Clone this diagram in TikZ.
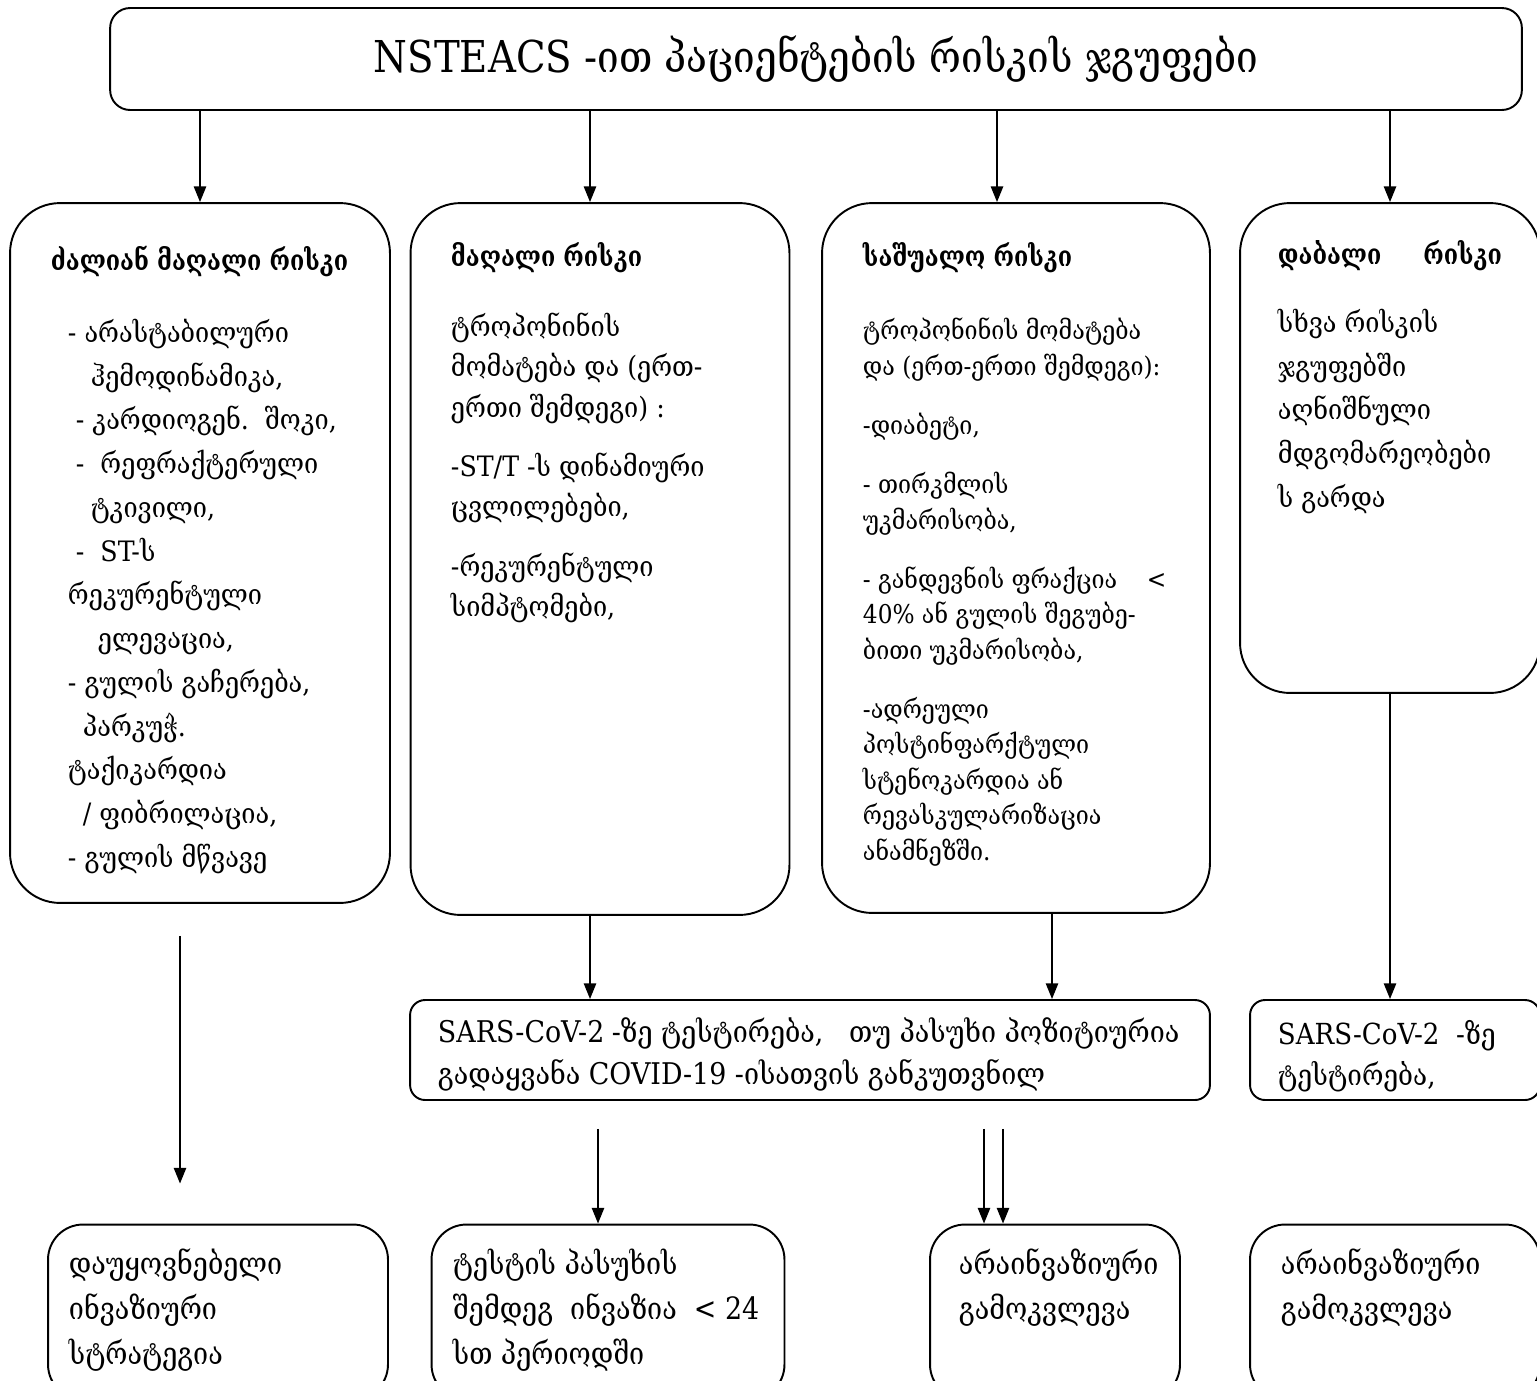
\documentclass[tikz,border=0pt]{standalone}
\usepackage{fontspec}
\setmainfont{DejaVu Serif}[FakeStretch=0.9]
\newfontfamily\titlefont{DejaVu Serif}[FakeStretch=0.88]
\newfontfamily\narrowfont{DejaVu Serif}[FakeStretch=0.875]
\newfontfamily\headfont{DejaVu Serif}[FakeStretch=0.83]
\usetikzlibrary{arrows.meta,calc}

\begin{document}
\begin{tikzpicture}[x=0.02cm, y=-0.02cm, line width=1.1pt]
  \tikzstyle{every node} = [inner sep = 0pt];
  \tikzstyle{box} = [draw, rounded corners=1cm];
  \tikzstyle{smallbox} = [draw, rounded corners=0.3cm, minimum height=2cm];
  \tikzstyle{endbox} = [draw, rounded corners=0.7cm, minimum height=3.5cm];
  \tikzstyle{head} = [anchor=north west, font=\fontsize{16}{20}\headfont\bfseries];
  \tikzstyle{body} = [anchor=north west, align=left, font=\fontsize{16}{24.9}\selectfont];
  \tikzstyle{arr} = [-{Triangle[length=9pt, width=7pt]}];

  \useasboundingbox (0,0) rectangle (1537,1380);
  \clip (0,0) rectangle (1537,1380);

  % title
  \node (top) [draw, rounded corners=0.4cm, minimum width=28.24cm, minimum height=2.04cm,
    font=\fontsize{25}{30}\titlefont] at (816,59) {NSTEACS -ით პაციენტების რისკის ჯგუფები};

  % risk groups
  \node (col1) [box, minimum width=7.6cm, minimum height=14cm] at (200,553) {};
  \node (col2) [box, minimum width=7.58cm, minimum height=14.24cm] at (600,559) {};
  \node (col3) [box, minimum width=7.76cm, minimum height=14.2cm] at (1016,558) {};
  \node (col4) [box, minimum width=6cm, minimum height=9.8cm] at (1390,448) {};

  \node (h1) [head] at (50,245) {ძალიან მაღალი რისკი};
  \node (t1) [body] at (67,318) {- არასტაბილური\\
    \hspace*{13pt}ჰემოდინამიკა,\\
    \hspace*{4.5pt}- კარდიოგენ.\ \ შოკი,\\
    \hspace*{4.5pt}-\ \ რეფრაქტერული\\
    \hspace*{13pt}ტკივილი,\\
    \hspace*{4.5pt}-\ \ ST-ს\\
    რეკურენტული\\
    \hspace*{17pt}ელევაცია,\\
    - გულის გაჩერება,\\
    \hspace*{8.5pt}პარკუჭ.\\
    ტაქიკარდია\\
    \hspace*{8.5pt}/ ფიბრილაცია,\\
    - გულის მწვავე};

  \node (h2) [head] at (450,242) {მაღალი რისკი};
  \node (t2) [body, font=\fontsize{16}{22.9}\selectfont] at (450,312) {ტროპონინის\\
    მომატება და (ერთ-\\
    ერთი შემდეგი) :\\[11pt]
    -ST/T -ს დინამიური\\
    ცვლილებები,\\[11pt]
    -რეკურენტული\\
    სიმპტომები,};

  \node (h3) [head] at (862,242) {საშუალო რისკი};
  \node (t3) [body, font=\fontsize{14.7}{20.2}\selectfont] at (862,317) {ტროპონინის მომატება\\
    და (ერთ-ერთი შემდეგი):\\[13.5pt]
    -დიაბეტი,\\[13.5pt]
    - თირკმლის\\
    უკმარისობა,\\[13.5pt]
    \makebox[161.6pt][l]{- განდევნის ფრაქცია}<\\
    40\% ან გულის შეგუბე-\\
    ბითი უკმარისობა,\\[13.5pt]
    -ადრეული\\
    პოსტინფარქტული\\
    სტენოკარდია ან\\
    რევასკულარიზაცია\\
    ანამნეზში.};

  \node (h4) [head] at (1277,240) {\makebox[82.8pt][l]{დაბალი}რისკი};
  \node (t4) [body] at (1277,308) {სხვა რისკის\\
    ჯგუფებში\\
    აღნიშნული\\
    მდგომარეობები\\
    ს გარდა};

  % testing
  \node (sars) [smallbox, minimum width=16cm] at (810,1050) {};
  \node (st1) [body, font=\fontsize{17}{24}\selectfont] at (437,1017) {\makebox[99pt][l]{SARS-CoV-2}-ზე ტესტირება,\ \ \ თუ პასუხი პოზიტიურია\\
    გადაყვანა COVID-19 -ისათვის განკუთვნილ};
  \node (sars2) [smallbox, minimum width=5.8cm] at (1395,1050) {};
  \node (st2) [body, font=\fontsize{16.5}{23.8}\selectfont] at (1277,1019) {SARS-CoV-2\ \ -ზე\\
    ტესტირება,};

  % strategy
  \node (b1) [endbox, minimum width=6.8cm] at (218,1312) {};
  \node (bt1) [body, font=\fontsize{17.5}{25.5}\narrowfont] at (68,1248) {დაუყოვნებელი\\
    ინვაზიური\\
    სტრატეგია};
  \node (b2) [endbox, minimum width=7.06cm] at (608,1312) {};
  \node (bt2) [body, font=\fontsize{17.5}{25.5}\narrowfont] at (452,1248) {ტესტის პასუხის\\
    შემდეგ\ \ ინვაზია\ \ < 24\\
    სთ პერიოდში};
  \node (b3) [endbox, minimum width=5cm] at (1055,1312) {};
  \node (bt3) [body, font=\fontsize{17.5}{25.5}\narrowfont] at (958,1248) {არაინვაზიური\\
    გამოკვლევა};
  \node (b4) [endbox, minimum width=5.8cm] at (1395,1312) {};
  \node (bt4) [body, font=\fontsize{17.5}{25.5}\narrowfont] at (1280,1248) {არაინვაზიური\\
    გამოკვლევა};

  % arrows
  \coordinate (in2) at ($(col2.north)+(-10,0)$);
  \coordinate (in3) at ($(col3.north)+(-19,0)$);
  \draw[arr] (top.south -| col1.north) -- (col1.north);
  \draw[arr] (top.south -| in2) -- (in2);
  \draw[arr] (top.south -| in3) -- (in3);
  \draw[arr] (top.south -| col4.north) -- (col4.north);

  \coordinate (out1) at ($(col1.south)+(-20,32)$);
  \coordinate (out2) at ($(col2.south)+(-10,0)$);
  \coordinate (out3) at ($(col3.south)+(36,0)$);
  \draw[arr, shorten >=0.8cm] (out1) -- (out1 |- b1.north);
  \draw[arr] (out2) -- (out2 |- sars.north);
  \draw[arr] (out3) -- (out3 |- sars.north);
  \draw[arr] (col4.south) -- (col4.south |- sars2.north);

  \coordinate (in5) at ($(b2.north)+(-10,0)$);
  \coordinate (in6) at ($(b3.north)+(-71,0)$);
  \coordinate (in7) at ($(b3.north)+(-52,0)$);
  \draw[arr, shorten <=0.56cm] (sars.south -| in5) -- (in5);
  \draw[arr, shorten <=0.56cm] (sars.south -| in6) -- (in6);
  \draw[arr, shorten <=0.56cm] (sars.south -| in7) -- (in7);
\end{tikzpicture}
\end{document}
